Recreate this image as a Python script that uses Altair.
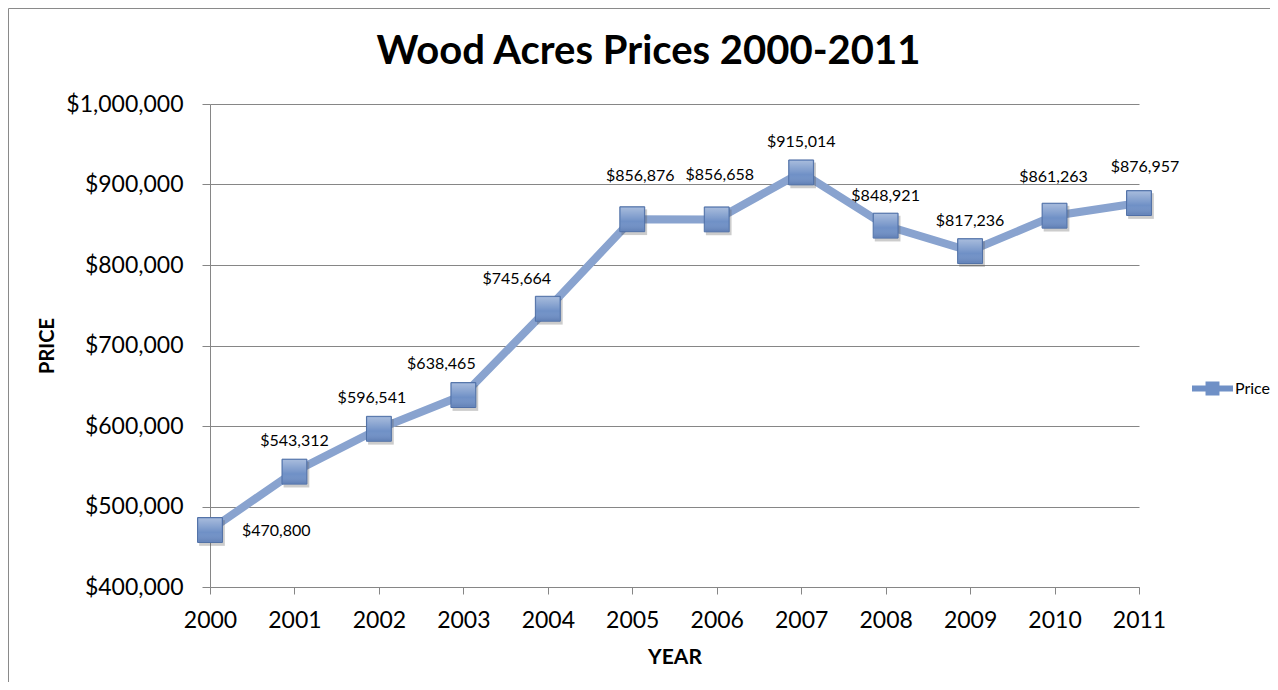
import altair as alt
import pandas as pd

years = [2000, 2001, 2002, 2003, 2004, 2005, 2006, 2007, 2008, 2009, 2010, 2011]
prices = [470800, 543312, 596541, 638465, 745664, 856876, 856658, 915014, 848921, 817236, 861263, 876957]
series_name = "Price"
y_ticks = [400000, 500000, 600000, 700000, 800000, 900000, 1000000]

# label nudges (pixels, relative to each marker)
label_dx = [32, 0, -7, -22, -31, 8, 3, 0, 0, 0, -1, 6]
label_dy = [1, -31, -31, -31, -30, -43, -44, -30, -30, -30, -39, -36]
label_align = ["left"] + ["center"] * 11

df = pd.DataFrame({
    "year": years,
    "price": prices,
    "series": [series_name] * len(years),
    "label": ["${:,}".format(p) for p in prices],
})

FONT = "Lato"
W, H = 929, 483

x_enc = alt.X("year:O", scale=alt.Scale(type="point", padding=0),
              axis=alt.Axis(title="YEAR", labelAngle=0, grid=False,
                            labelFontSize=23, labelPadding=15, tickSize=7,
                            titleFontSize=21, titleFontWeight="bold",
                            titleX=W / 2, titleY=70, titleBaseline="middle"))
y_enc = alt.Y("price:Q", scale=alt.Scale(domain=[400000, 1000000], nice=False, zero=False),
              axis=alt.Axis(title="PRICE", values=y_ticks, format="$,.0f",
                            labelFontSize=23, labelPadding=19, tickSize=8,
                            titleFontSize=20, titleFontWeight="bold",
                            titleAngle=-90, titleX=-163, titleY=H / 2,
                            titleAlign="center", titleBaseline="middle"))

base = alt.Chart(df)

border = alt.Chart(pd.DataFrame({"k": [0]})).mark_rect(
    fill=None, stroke="#8a8a8a", strokeWidth=1, clip=False
).encode(x=alt.value(-201.5), x2=alt.value(1100), y=alt.value(-95.5), y2=alt.value(700))

line = base.mark_line(color="#89A3CF", strokeWidth=8).encode(x=x_enc, y=y_enc)

shadow = base.mark_square(size=660, color="#555555", opacity=0.3, xOffset=2, yOffset=3).encode(
    x="year:O", y="price:Q")

squares = base.mark_square(size=620, opacity=1, stroke="#4F6FA5", strokeWidth=1).encode(
    x="year:O", y="price:Q",
    fill=alt.Fill("series:N", scale=alt.Scale(range=["#6F90C6"]),
                  legend=alt.Legend(title=None, orient="none", legendX=982, legendY=264,
                                    symbolType="M-1,-0.15H1V0.15H-1Z M-0.34,-0.34H0.34V0.34H-0.34Z",
                                    symbolSize=1681, symbolStrokeWidth=0,
                                    labelFont=FONT, labelFontSize=16, labelColor="#000000",
                                    labelOffset=2, padding=0)),
)

gloss = base.mark_square(
    size=540, strokeWidth=0,
    fill=alt.Gradient(gradient="linear", x1=0, x2=0, y1=0, y2=1,
                      stops=[alt.GradientStop(color="rgba(255,255,255,0.55)", offset=0),
                             alt.GradientStop(color="rgba(255,255,255,0.15)", offset=0.45),
                             alt.GradientStop(color="rgba(255,255,255,0)", offset=0.6),
                             alt.GradientStop(color="rgba(40,60,110,0.25)", offset=1)])
).encode(x="year:O", y="price:Q")

label_layers = []
for i, yr in enumerate(years):
    label_layers.append(
        base.transform_filter(alt.datum.year == yr).mark_text(
            font=FONT, fontSize=16, color="#000000", baseline="middle",
            align=label_align[i], dx=label_dx[i], dy=label_dy[i]
        ).encode(x="year:O", y="price:Q", text="label:N")
    )

chart = alt.layer(border, line, shadow, squares, gloss, *label_layers).properties(
    width=W, height=H,
    title=alt.TitleParams("Wood Acres Prices 2000-2011", font=FONT, fontSize=40, fontWeight="bold",
                          color="#000000", anchor="middle", dx=-26, offset=-96, baseline="alphabetic"),
    autosize=alt.AutoSizeParams(type="none"),
    padding={"left": 202, "top": 96, "right": 131, "bottom": 95},
    background="white",
).configure_axis(
    labelFont=FONT, titleFont=FONT, labelColor="#000000", titleColor="#000000",
    domainColor="#868686", tickColor="#868686", gridColor="#868686",
    domainWidth=1, tickWidth=1, gridWidth=1,
).configure_view(stroke=None)

chart.save("out.html", embed_options={"renderer": "svg", "actions": False})
